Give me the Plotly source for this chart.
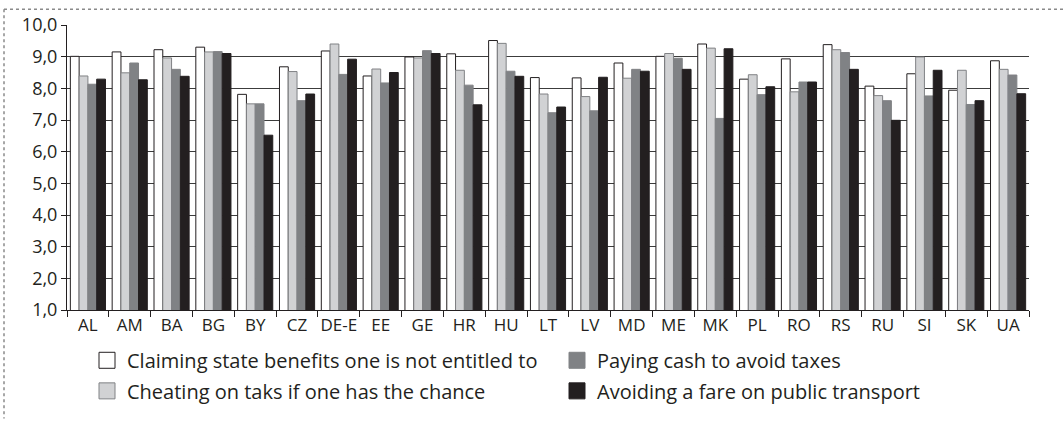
import plotly.graph_objects as go

countries = ["AL", "AM", "BA", "BG", "BY", "CZ", "DE-E", "EE", "GE", "HR", "HU", "LT",
             "LV", "MD", "ME", "MK", "PL", "RO", "RS", "RU", "SI", "SK", "UA"]

claiming_benefits = [9.01, 9.15, 9.22, 9.30, 7.81, 8.68, 9.18, 8.39, 8.99, 9.09, 9.51, 8.34,
                     8.33, 8.80, 9.01, 9.40, 8.29, 8.93, 9.38, 8.07, 8.46, 7.94, 8.87]
cheating_taxes = [8.39, 8.49, 8.96, 9.15, 7.51, 8.53, 9.40, 8.61, 8.96, 8.57, 9.42, 7.82,
                  7.74, 8.32, 9.10, 9.27, 8.43, 7.89, 9.22, 7.77, 8.99, 8.57, 8.60]
paying_cash = [8.13, 8.80, 8.60, 9.16, 7.51, 7.61, 8.44, 8.17, 9.19, 8.10, 8.54, 7.23,
               7.29, 8.60, 8.95, 7.05, 7.80, 8.20, 9.13, 7.61, 7.76, 7.49, 8.42]
avoiding_fare = [8.29, 8.27, 8.38, 9.10, 6.52, 7.82, 8.92, 8.50, 9.10, 7.48, 8.38, 7.41,
                 8.35, 8.54, 8.60, 9.25, 8.05, 8.20, 8.60, 6.99, 8.57, 7.61, 7.83]

series_names = ["Claiming state benefits one is not entitled to",
                "Cheating on taks if one has the chance",
                "Paying cash to avoid taxes",
                "Avoiding a fare on public transport"]
series_values = [claiming_benefits, cheating_taxes, paying_cash, avoiding_fare]
fill_colors = ["#ffffff", "#d1d2d4", "#808285", "#231f20"]
line_colors = ["#231f20", "#808285", "#808285", "#231f20"]
legend_ids = ["legend", "legend3", "legend2", "legend4"]

FONT = "Open Sans"

fig = go.Figure()
for name, vals, fc, lc in zip(series_names, series_values, fill_colors, line_colors):
    fig.add_trace(go.Bar(
        x=countries, y=vals, name=name,
        marker=dict(color=fc, line=dict(color=lc, width=1)),
        showlegend=False,
    ))

# legend entries (square swatches, one legend per entry for 2-column placement)
for name, fc, lc, lg in zip(series_names, fill_colors, line_colors, legend_ids):
    fig.add_trace(go.Scatter(
        x=[None], y=[None], mode="markers", name=name,
        marker=dict(symbol="square", size=16, color=fc, line=dict(color=lc, width=1)),
        legend=lg, showlegend=True, hoverinfo="skip",
    ))

# pixel -> paper helpers (plot area: x 67..1029, y 23..312)
L, R, T, B = 67, 1029, 23, 312
def px(x):
    return (x - L) / (R - L)
def py(y):
    return (B - y) / (B - T)

leg_common = dict(font=dict(family=FONT, size=20, color="#231f20"),
                  bgcolor="rgba(0,0,0,0)", xanchor="left", yanchor="middle",
                  itemwidth=30)

fig.update_layout(
    width=1063, height=422,
    margin=dict(l=L, r=1063 - R, t=T, b=422 - B),
    paper_bgcolor="white", plot_bgcolor="white",
    barmode="group", bargap=0.16, bargroupgap=0,
    separators=",.",
    showlegend=True,
    font=dict(family=FONT, size=17, color="#231f20"),
    legend=dict(x=px(87), y=py(363), **leg_common),
    legend2=dict(x=px(557), y=py(363), **leg_common),
    legend3=dict(x=px(87), y=py(394), **leg_common),
    legend4=dict(x=px(557), y=py(394), **leg_common),
    xaxis=dict(
        showline=True, linecolor="#231f20", linewidth=1,
        ticks="outside", ticklen=6, tickcolor="#231f20", tickson="boundaries",
        tickangle=0,
        tickfont=dict(family=FONT, size=17, color="#231f20"),
        showgrid=False,
    ),
    yaxis=dict(
        range=[1, 10], dtick=1, tick0=1, tickformat=".1f",
        showline=True, linecolor="#231f20", linewidth=1,
        ticks="outside", ticklen=5, tickcolor="#231f20",
        showgrid=True, gridcolor="#3c3c3c", gridwidth=1,
        zeroline=False,
        tickfont=dict(family=FONT, size=18, color="#231f20"),
    ),
    shapes=[
        dict(type="line", xref="paper", yref="paper",
             x0=px(4), x1=px(1063), y0=py(7), y1=py(7),
             line=dict(color="#8a8a8a", width=1.5, dash="dot")),
        dict(type="line", xref="paper", yref="paper",
             x0=px(4), x1=px(4), y0=py(7), y1=py(422),
             line=dict(color="#8a8a8a", width=1.5, dash="dot")),
    ],
)

post = ("document.documentElement.style.margin='0';"
        "document.body.style.margin='0';"
        "document.documentElement.style.overflow='hidden';"
        "document.body.style.overflow='hidden';"
        "var d=document.getElementById('{plot_id}');"
        "d.style.display='block';"
        "d.parentElement.style.height='422px';"
        "d.parentElement.style.overflow='hidden';")

fig.write_html("out.html", config={"displayModeBar": False}, post_script=post)
